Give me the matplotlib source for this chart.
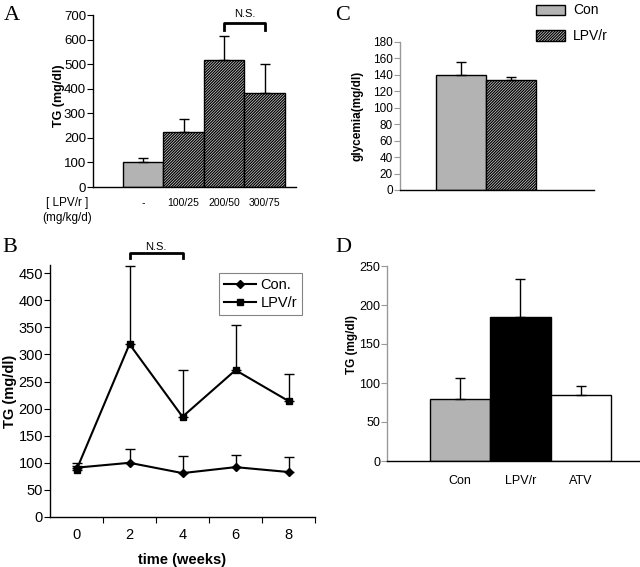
import numpy as np
import matplotlib
matplotlib.use("Agg")
import matplotlib.pyplot as plt
from matplotlib.patches import Patch
from matplotlib.ticker import FixedLocator

plt.rcParams['font.family'] = ['Liberation Sans', 'DejaVu Sans']
plt.rcParams['hatch.linewidth'] = 0.9
plt.rcParams['hatch.color'] = '#303030'

# panel A: TG by dose
doses = ['-', '100/25', '200/50', '300/75']
tg_dose = [102, 225, 517, 381]
tg_dose_err = [15, 52, 98, 119]

# panel B: TG time course
weeks = [0, 2, 4, 6, 8]
con_tg = [91, 100, 81, 92, 83]
con_err = [9, 26, 31, 23, 28]
lpv_tg = [87, 319, 185, 271, 214]
lpv_err = [8, 144, 87, 83, 49]

# panel C: glycemia
glyc_groups = ['Con', 'LPV/r']
glycemia = [140, 134]
glyc_err = [15.5, 4]

# panel D: TG by drug
drugs = ['Con', 'LPV/r', 'ATV']
tg_drug = [80, 184, 85]
tg_drug_err = [27, 49, 11]

GRAY = '#b3b3b3'
HATCH_FACE = '#d8d8d8'
HATCH = '/' * 12

W, H = 640, 567
fig = plt.figure(figsize=(6.4, 5.67), dpi=100)

def ax_px(x0, y_top, x1, y_bot):
    return fig.add_axes([x0 / W, 1 - y_bot / H, (x1 - x0) / W, (y_bot - y_top) / H])

def excel_style(ax, ycol='black'):
    ax.spines['top'].set_visible(False)
    ax.spines['right'].set_visible(False)
    ax.spines['left'].set_color(ycol)
    ax.spines['left'].set_linewidth(1.0)
    ax.spines['bottom'].set_linewidth(1.0)
    ax.tick_params(axis='y', direction='out', length=4, width=0.8, color=ycol, pad=1)
    ax.tick_params(axis='x', length=0)

def bracket(ax, x0, x1, y_top, y_bot, ytext, size):
    ax.plot([x0, x0, x1, x1], [y_bot, y_top, y_top, y_bot], color='black', lw=2, clip_on=False)
    ax.text((x0 + x1) / 2, ytext, 'N.S.', ha='center', va='center', fontsize=size, clip_on=False)

# ---------- A ----------
axA = ax_px(93, 15, 296, 187)
xa = np.arange(len(doses))
axA.bar(xa[:1], tg_dose[:1], width=1.0, color=GRAY, edgecolor='black', lw=1)
axA.bar(xa[1:], tg_dose[1:], width=1.0, color=HATCH_FACE, edgecolor='black', lw=1, hatch=HATCH)
axA.errorbar(xa, tg_dose, yerr=[np.zeros(4), tg_dose_err], fmt='none', ecolor='black',
             elinewidth=1, capsize=3.5, capthick=1)
axA.set_xlim(-1.23, 3.77)
axA.set_ylim(0, 700)
axA.set_yticks(range(0, 701, 100))
axA.set_xticks(xa)
axA.set_xticklabels(doses, fontsize=7.5)
excel_style(axA)
axA.tick_params(axis='x', pad=8)
axA.tick_params(axis='y', labelsize=9.5)
axA.set_ylabel('TG (mg/dl)', fontsize=9, fontweight='bold')
axA.yaxis.set_label_coords(-0.138, 0.53)
bracket(axA, 2, 3, 667, 639, 706, 8)
fig.text(67 / W, 1 - 203 / H, '[ LPV/r ]', ha='center', va='center', fontsize=8.5)
fig.text(67 / W, 1 - 218 / H, '(mg/kg/d)', ha='center', va='center', fontsize=8.5)
fig.text(4 / W, 1 - 15 / H, 'A', family='Liberation Serif', fontsize=16, va='center')

# ---------- C ----------
axC = ax_px(400, 42, 594, 190)
xc = np.arange(len(glyc_groups))
axC.bar(xc[:1], glycemia[:1], width=1.0, color=GRAY, edgecolor='black', lw=1)
axC.bar(xc[1:], glycemia[1:], width=1.0, color=HATCH_FACE, edgecolor='black', lw=1, hatch=HATCH)
axC.errorbar(xc, glycemia, yerr=[np.zeros(2), glyc_err], fmt='none', ecolor='black',
             elinewidth=1, capsize=3.5, capthick=1)
axC.set_xlim(-1.22, 2.66)
axC.set_ylim(0, 180)
axC.set_yticks(range(0, 181, 20))
axC.set_xticks([])
excel_style(axC, ycol='#999999')
axC.tick_params(axis='y', labelsize=8.5)
axC.set_ylabel('glycemia(mg/dl)', fontsize=8.5, fontweight='bold')
axC.yaxis.set_label_coords(-0.186, 0.5)
handles = [Patch(facecolor=GRAY, edgecolor='black', lw=1, label='Con'),
           Patch(facecolor=HATCH_FACE, edgecolor='black', lw=1, hatch=HATCH, label='LPV/r')]
fig.legend(handles=handles, loc='upper left', bbox_to_anchor=(523 / W, 1 + 9 / H), frameon=False,
           fontsize=10, handlelength=2.1, handleheight=0.75, labelspacing=0.85, handletextpad=0.6)
fig.text(335 / W, 1 - 15 / H, 'C', family='Liberation Serif', fontsize=16, va='center')

# ---------- B ----------
axB = ax_px(50, 265, 315, 517)
axB.errorbar(weeks, con_tg, yerr=[np.zeros(5), con_err], fmt='none', ecolor='black',
             elinewidth=1, capsize=3.5, capthick=1)
axB.errorbar(weeks, lpv_tg, yerr=[np.zeros(5), lpv_err], fmt='none', ecolor='black',
             elinewidth=1, capsize=3.5, capthick=1)
axB.plot(weeks, con_tg, color='black', lw=1.5, marker='D', ms=4.5, label='Con.')
axB.plot(weeks, lpv_tg, color='black', lw=1.5, marker='s', ms=5, label='LPV/r')
axB.set_xlim(-1, 9)
axB.set_ylim(0, 465)
axB.set_yticks(range(0, 451, 50))
axB.set_xticks(weeks)
axB.xaxis.set_minor_locator(FixedLocator([1, 3, 5, 7, 9]))
excel_style(axB)
axB.tick_params(axis='x', which='minor', length=4, direction='out', width=0.8)
axB.tick_params(axis='x', labelsize=10.5, pad=8)
axB.tick_params(axis='y', labelsize=10.5)
axB.set_ylabel('TG (mg/dl)', fontsize=10.5, fontweight='bold')
axB.yaxis.set_label_coords(-0.125, 0.5)
axB.set_xlabel('time (weeks)', fontsize=10.5, fontweight='bold', labelpad=8)
leg = axB.legend(loc='upper right', bbox_to_anchor=(0.951, 0.968), borderaxespad=0,
                 fontsize=10.5, frameon=True, fancybox=False, edgecolor='#666666',
                 handlelength=2.2, borderpad=0.35, labelspacing=0.25, handletextpad=0.3)
leg.get_frame().set_linewidth(0.8)
bracket(axB, 2, 4, 487, 478, 498, 8)
fig.text(2 / W, 1 - 248 / H, 'B', family='Liberation Serif', fontsize=16, va='center')

# ---------- D ----------
axD = ax_px(387, 266, 640, 461)
xd = np.arange(len(drugs))
axD.bar(xd, tg_drug, width=1.0, color=[GRAY, 'black', 'white'], edgecolor='black', lw=1)
axD.errorbar(xd, tg_drug, yerr=[np.zeros(3), tg_drug_err], fmt='none', ecolor='black',
             elinewidth=1, capsize=3.5, capthick=1)
axD.set_xlim(-1.21, 2.98)
axD.set_ylim(0, 250)
axD.set_yticks(range(0, 251, 50))
axD.set_xticks(xd)
axD.set_xticklabels(drugs, fontsize=9)
excel_style(axD, ycol='#999999')
axD.tick_params(axis='x', pad=10)
axD.tick_params(axis='y', labelsize=9)
axD.set_ylabel('TG (mg/dl)', fontsize=8.5, fontweight='bold')
axD.yaxis.set_label_coords(-0.115, 0.6)
fig.text(335 / W, 1 - 248 / H, 'D', family='Liberation Serif', fontsize=16, va='center')

fig.savefig('out.png', dpi=100)
